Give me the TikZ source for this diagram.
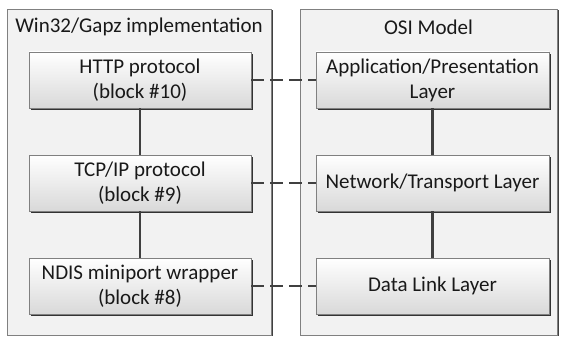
\documentclass[tikz,border=0pt]{standalone}
\usepackage{fontspec}
\setmainfont{Carlito}
\usetikzlibrary{shadows}
\begin{document}
\begin{tikzpicture}[x=1pt,y=-1pt,
  txt/.style={font=\fontsize{21}{25}\selectfont, text=black!90},
  container/.style={draw=black!50, line width=0.8pt, fill=black!5, inner sep=0pt,
    minimum width=#1, minimum height=326pt,
    drop shadow={shadow xshift=2pt, shadow yshift=-1pt, fill=black!75, opacity=1}},
  layerbox/.style={txt, draw=black!50, line width=0.8pt, top color=white, bottom color=black!15,
    minimum width=#1, minimum height=56pt, inner sep=0pt, align=center,
    drop shadow={shadow xshift=2pt, shadow yshift=-2.2pt, fill=black!80, opacity=1}},
  solidlink/.style={draw=black!75, line width=2.4pt},
  dashlink/.style={draw=black!75, line width=2.4pt, dash pattern=on 13pt off 6pt}
]
\useasboundingbox (0,0) rectangle (562,337);
\node[container=264pt] (cl) at (139,172) {};
\node[container=257pt] (cr) at (428.5,172) {};
\node[txt] (tl) at (139,27) {Win32/Gapz implementation};
\node[txt] (tr) at (428.5,27) {OSI Model};

\node[layerbox=222pt] (h) at (140,80) {HTTP protocol\\(block \#10)};
\node[layerbox=222pt] (t) at (140,183) {TCP/IP protocol\\(block \#9)};
\node[layerbox=222pt] (n) at (140,286) {NDIS miniport wrapper\\(block \#8)};

\node[layerbox=233pt] (a) at (432.5,80) {Application/Presentation\\Layer};
\node[layerbox=233pt] (nt) at (432.5,183) {Network/Transport Layer};
\node[layerbox=233pt] (d) at (432.5,286) {Data Link Layer};

\draw[solidlink] (h) -- (t);
\draw[solidlink] (t) -- (n);
\draw[solidlink] (a) -- (nt);
\draw[solidlink] (nt) -- (d);

\draw[dashlink] (h.east) -- (a.west);
\draw[dashlink] (t.east) -- (nt.west);
\draw[dashlink] (n.east) -- (d.west);
\end{tikzpicture}
\end{document}
